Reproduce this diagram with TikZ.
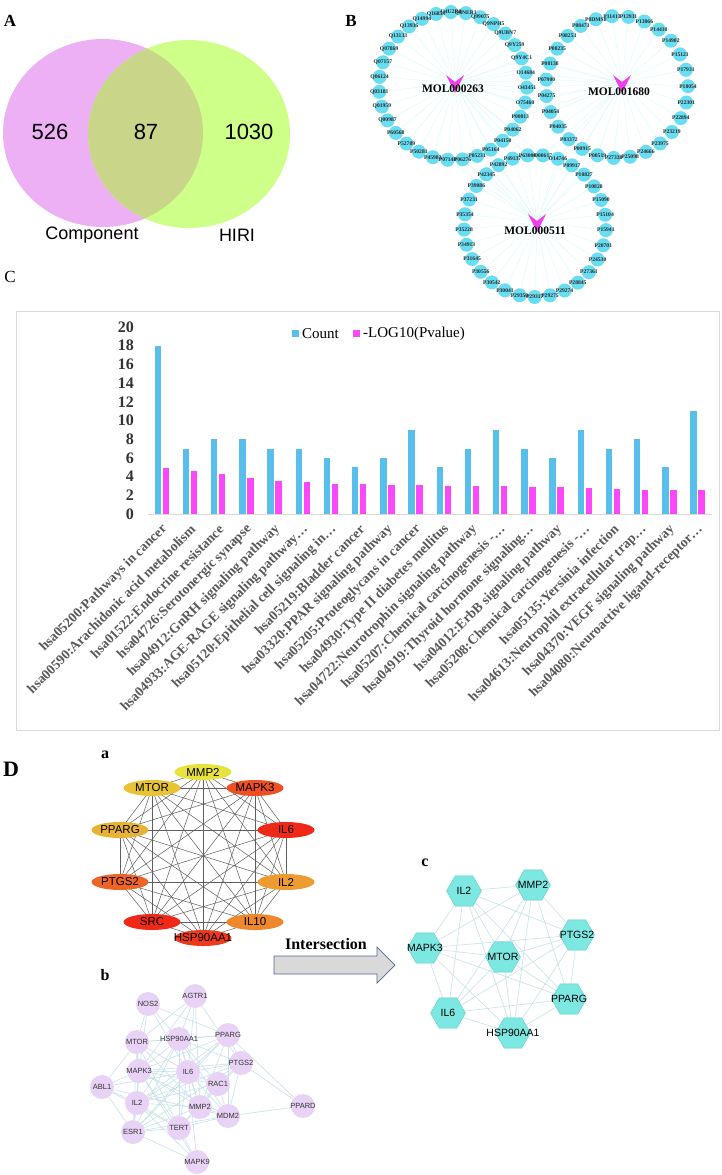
\documentclass[tikz,border=0pt]{standalone}
\usepackage{fontspec}
\setmainfont{Liberation Serif}
\setsansfont{Liberation Sans}
\usetikzlibrary{shapes.geometric}
\pgfdeclarelayer{edges}
\pgfsetlayers{edges,main}

\definecolor{vennpink}{RGB}{238,176,245}
\definecolor{venngreen}{RGB}{205,255,137}
\definecolor{vennmix}{RGB}{201,214,138}
\definecolor{tgtcyan}{RGB}{105,222,242}
\definecolor{tgtedge}{RGB}{214,249,251}
\definecolor{hubmag}{RGB}{245,62,235}
\definecolor{cntblue}{RGB}{88,190,236}
\definecolor{logpink}{RGB}{250,72,250}
\definecolor{axgray}{RGB}{217,217,217}
\definecolor{labgray}{RGB}{89,89,89}
\definecolor{kgray}{RGB}{95,95,95}
\definecolor{ppilav}{RGB}{232,210,246}
\definecolor{ppiedge}{RGB}{200,226,234}
\definecolor{hexcyan}{RGB}{125,232,226}
\definecolor{hexline}{RGB}{100,205,200}
\definecolor{arrowfill}{RGB}{217,217,217}
\definecolor{arrowline}{RGB}{80,105,150}
\definecolor{dgyel}{RGB}{232,226,60}
\definecolor{dggold}{RGB}{232,196,52}
\definecolor{dgamber}{RGB}{232,178,50}
\definecolor{dgorange}{RGB}{238,156,48}
\definecolor{dgtang}{RGB}{238,136,44}
\definecolor{dgrust}{RGB}{238,100,36}
\definecolor{dgver}{RGB}{238,80,36}
\definecolor{dgscar}{RGB}{240,56,28}
\definecolor{dgred}{RGB}{240,40,24}

\def\ringA{Q8NER1,Q99075,Q9NPH5,Q9UBN7,Q9Y259,Q9Y4C1,O14684,O43451,O75460,P00813,P04062,P04150,P05164,P05231,P06276,P07148,P45983,P50281,P52789,P60568,Q00987,Q01959,Q03181,Q06124,Q07157,Q07869,Q13133,Q13936,Q14994,Q16853,Q4U2R8}
\def\ringB{P11413,P12931,P13866,P14410,P14902,P15121,P17931,P18054,P22301,P22894,P23219,P23975,P24666,P25098,P27338,P00519,P00915,P03372,P04035,P04054,P04275,P07900,P08138,P08235,P08253,P08473,P0DMS8}
\def\ringC{P63000,O00617,O14746,P09917,P10827,P10828,P15090,P15104,P15941,P20701,P24530,P27361,P28845,P29274,P29275,P29317,P29350,P30041,P30542,P30556,P31645,P34913,P35228,P35354,P37231,P39086,P42345,P42892,P49137}
\def\hubnodes{MMP2,MAPK3,IL6,IL2,IL10,HSP90AA1,SRC,PTGS2,PPARG,MTOR}
\def\hexnodes{IL2,MMP2,PTGS2,PPARG,HSP90AA1,IL6,MAPK3,MTOR}

\begin{document}
\begin{tikzpicture}[x=1pt,y=-1pt,
    panel/.style={font=\bfseries\fontsize{17}{17}\selectfont, inner sep=0pt},
    sub/.style={font=\bfseries\fontsize{16}{16}\selectfont, inner sep=0pt},
    vennnum/.style={font=\sffamily\fontsize{22}{22}\selectfont, inner sep=0pt},
    vennset/.style={font=\sffamily\fontsize{18}{18}\selectfont, inner sep=0pt},
    tgt/.style={circle, fill=tgtcyan, minimum size=14pt, inner sep=0pt},
    tgtlab/.style={font=\bfseries\fontsize{5.6}{5.6}\selectfont, text=black!85, inner sep=0pt},
    molab/.style={font=\bfseries\fontsize{11.5}{11.5}\selectfont, inner sep=0pt},
    ytick/.style={font=\bfseries\fontsize{16}{16}\selectfont, text=black!80, inner sep=0pt, anchor=east},
    catlab/.style={font=\bfseries\fontsize{13.8}{13.8}\selectfont, text=labgray, inner sep=0pt, anchor=east, rotate=45},
    legtxt/.style={font=\fontsize{15}{15}\selectfont, inner sep=0pt, anchor=west},
    degnode/.style={ellipse, minimum width=57pt, minimum height=16pt, inner sep=0pt},
    deglab/.style={font=\sffamily\fontsize{11.5}{11.5}\selectfont, inner sep=0pt},
    ppinode/.style={circle, fill=ppilav, minimum size=24pt, inner sep=0pt},
    ppilab/.style={font=\sffamily\fontsize{7.5}{7.5}\selectfont, text=black!80, inner sep=0pt},
    hexnode/.style={regular polygon, regular polygon sides=6, fill=hexcyan, draw=hexline, line width=0.4pt, minimum size=35pt, inner sep=0pt},
    hexlab/.style={font=\sffamily\fontsize{10.5}{10.5}\selectfont, inner sep=0pt}
  ]
\begin{pgfonlayer}{edges}
  \fill[white] (0,0) rectangle (721,1175);
\end{pgfonlayer}
\useasboundingbox (0,0) rectangle (721,1175);

% A: Venn
\node[panel] (labA) at (10,21) {A};
\fill[vennpink] (103,133) ellipse [x radius=100pt, y radius=94pt];
\fill[venngreen] (189,134) ellipse [x radius=101pt, y radius=94pt];
\begin{scope}
  \clip (103,133) ellipse [x radius=100pt, y radius=94pt];
  \fill[vennmix] (189,134) ellipse [x radius=101pt, y radius=94pt];
\end{scope}
\node[vennnum] (nComp) at (50,132) {526};
\node[vennnum] (nBoth) at (146,132) {87};
\node[vennnum] (nHiri) at (249,132) {1030};
\node[vennset] (sComp) at (92,235) {Component};
\node[vennset] (sHiri) at (237,235) {HIRI};

% B: compound-target rings
\node[panel] (labB) at (351,21) {B};
\coordinate (hubA) at (455,83);
\coordinate (hubB) at (622,83);
\coordinate (hubC) at (537,222);
\foreach \lab [count=\k from 0] in \ringA {
  \pgfmathsetmacro\ang{-80+\k*360/31}
  \node[tgt] (ra\k) at ({453+74*cos(\ang)},{86+74*sin(\ang)}) {};
}
\foreach \lab [count=\k from 0] in \ringB {
  \pgfmathsetmacro\ang{-94+\k*360/27}
  \node[tgt] (rb\k) at ({617+71*cos(\ang)},{87+71*sin(\ang)}) {};
}
\foreach \lab [count=\k from 0] in \ringC {
  \pgfmathsetmacro\ang{-96+\k*360/29}
  \node[tgt] (rc\k) at ({535+71*cos(\ang)},{226+71*sin(\ang)}) {};
}
\begin{pgfonlayer}{edges}
  \foreach \k in {0,...,30} \draw[tgtedge, line width=0.35pt] (hubA) -- (ra\k);
  \foreach \k in {0,...,26} \draw[tgtedge, line width=0.35pt] (hubB) -- (rb\k);
  \foreach \k in {0,...,28} \draw[tgtedge, line width=0.35pt] (hubC) -- (rc\k);
  \foreach \k in {19,20,21,22,23} \draw[tgtedge, line width=0.35pt] (hubA) -- (rb\k);
  \foreach \k in {0,1,27,28} \draw[tgtedge, line width=0.35pt] (hubA) -- (rc\k);
  \foreach \k in {5,6,7,8,9} \draw[tgtedge, line width=0.35pt] (hubB) -- (ra\k);
  \foreach \k in {1,2,3} \draw[tgtedge, line width=0.35pt] (hubB) -- (rc\k);
  \foreach \k in {12,13,14,15} \draw[tgtedge, line width=0.35pt] (hubC) -- (ra\k);
  \foreach \k in {15,16,17} \draw[tgtedge, line width=0.35pt] (hubC) -- (rb\k);
\end{pgfonlayer}
\foreach \lab [count=\k from 0] in \ringA \node[tgtlab] at (ra\k) {\lab};
\foreach \lab [count=\k from 0] in \ringB \node[tgtlab] at (rb\k) {\lab};
\foreach \lab [count=\k from 0] in \ringC \node[tgtlab] at (rc\k) {\lab};
\foreach \h in {hubA,hubB,hubC}
  \fill[hubmag] (\h) ++(-9,-8) -- ++(9,7) -- ++(9,-7) -- ++(-9,18) -- cycle;
\node[molab] (molA) at (453,89) {MOL000263};
\node[molab] (molB) at (619,92) {MOL001680};
\node[molab] (molC) at (535,231) {MOL000511};

% C: KEGG bar chart
\node[panel, font=\fontsize{17}{17}\selectfont] (labC) at (10,277) {C};
\draw[axgray, line width=0.8pt] (16,311) rectangle (719,730);
\draw[axgray, line width=1pt] (148,514.5) -- (712,514.5);
\foreach \v in {0,2,...,20} \node[ytick] at (134,{514-9.35*\v}) {\v};
\fill[cntblue] (292,337) rectangle ++(7,-7);
\node[legtxt] (legCount) at (302,334) {Count};
\fill[logpink] (353,337) rectangle ++(7,-7);
\node[legtxt] (legLog) at (363,334) {-LOG10(Pvalue)};
\foreach \c/\p/\lab [count=\k from 0] in {
    18/4.96/{hsa05200:Pathways in cancer},
    7/4.57/{hsa00590:Arachidonic acid metabolism},
    8/4.33/{hsa01522:Endocrine resistance},
    8/3.90/{hsa04726:Serotonergic synapse},
    7/3.55/{hsa04912:GnRH signaling pathway},
    7/3.37/{hsa04933:AGE-RAGE signaling pathway…},
    6/3.23/{hsa05120:Epithelial cell signaling in…},
    5/3.19/{hsa05219:Bladder cancer},
    6/3.09/{hsa03320:PPAR signaling pathway},
    9/3.09/{hsa05205:Proteoglycans in cancer},
    5/3.01/{hsa04930:Type II diabetes mellitus},
    7/2.98/{hsa04722:Neurotrophin signaling pathway},
    9/2.98/{hsa05207:Chemical carcinogenesis -…},
    7/2.94/{hsa04919:Thyroid hormone signaling…},
    6/2.84/{hsa04012:ErbB signaling pathway},
    9/2.80/{hsa05208:Chemical carcinogenesis -…},
    7/2.66/{hsa05135:Yersinia infection},
    8/2.59/{hsa04613:Neutrophil extracellular trap…},
    5/2.59/{hsa04370:VEGF signaling pathway},
    11/2.55/{hsa04080:Neuroactive ligand-receptor…}} {
  \fill[cntblue] ({154.5+28.2*\k},514) rectangle ++(6.5,{-9.35*\c});
  \fill[logpink] ({162.5+28.2*\k},514) rectangle ++(6.5,{-9.35*\p});
  \node[catlab] at ({165+28.2*\k},527) {\lab};
}

% D: hub genes and intersection
\node[panel, font=\bfseries\fontsize{22}{22}\selectfont] (labD) at (11,769) {D};
\node[sub] (laba) at (105,755) {a};
\foreach \nm/\px/\py/\col in {MMP2/203/772/dgyel, MTOR/152/788/dggold, MAPK3/255/788/dgver,
    PPARG/120/830/dgamber, IL6/286/830/dgred, PTGS2/120/882/dgrust, IL2/286/882/dgorange,
    SRC/152/922/dgred, IL10/255/922/dgtang, HSP90AA1/203/938/dgscar}
  \node[degnode, fill=\col, label={[deglab]center:\nm}] (a\nm) at (\px,\py) {};
\begin{pgfonlayer}{edges}
  \foreach \u [count=\i] in \hubnodes
    \foreach \v [count=\j] in \hubnodes {
      \ifnum\i<\j \draw[kgray, line width=0.5pt] (a\u.center) -- (a\v.center); \fi
    }
\end{pgfonlayer}

\node[sub] (labb) at (105,975) {b};
\foreach \nm/\px/\py in {NOS2/148/1004, AGTR1/195/996, MTOR/137/1042, HSP90AA1/179/1039,
    PPARG/228/1035, PTGS2/241/1063, MAPK3/139/1071, IL6/188/1072, RAC1/218/1084,
    ABL1/102/1087, IL2/137/1103, MMP2/200/1107, MDM2/228/1116, PPARD/303/1106,
    ESR1/133/1132, TERT/179/1128, MAPK9/197/1162}
  \node[ppinode, label={[ppilab]center:\nm}] (b\nm) at (\px,\py) {};
\begin{pgfonlayer}{edges}
  \foreach \u/\v in {NOS2/MTOR, NOS2/HSP90AA1, NOS2/IL6, NOS2/MAPK3, NOS2/PPARG,
      AGTR1/HSP90AA1, AGTR1/IL6, AGTR1/PTGS2, AGTR1/MAPK3, AGTR1/MMP2, AGTR1/MTOR,
      MTOR/HSP90AA1, MTOR/MAPK3, MTOR/IL2, MTOR/ESR1, MTOR/IL6, MTOR/PPARG, MTOR/TERT, MTOR/ABL1, MTOR/MMP2,
      HSP90AA1/PPARG, HSP90AA1/MAPK3, HSP90AA1/IL6, HSP90AA1/IL2, HSP90AA1/ESR1, HSP90AA1/TERT,
      HSP90AA1/MDM2, HSP90AA1/PTGS2, HSP90AA1/RAC1, HSP90AA1/MMP2,
      PPARG/PTGS2, PPARG/IL6, PPARG/MAPK3, PPARG/MMP2, PPARG/ESR1, PPARG/MDM2, PPARG/PPARD, PPARG/IL2,
      PTGS2/IL6, PTGS2/MAPK3, PTGS2/MMP2, PTGS2/RAC1, PTGS2/PPARD, PTGS2/IL2, PTGS2/MDM2, PTGS2/ESR1,
      MAPK3/IL6, MAPK3/ABL1, MAPK3/IL2, MAPK3/ESR1, MAPK3/TERT, MAPK3/MMP2, MAPK3/RAC1, MAPK3/MDM2, MAPK3/MAPK9,
      IL6/IL2, IL6/MMP2, IL6/RAC1, IL6/TERT, IL6/ESR1, IL6/MDM2, IL6/MAPK9,
      RAC1/MMP2, RAC1/MDM2, RAC1/IL2, RAC1/TERT,
      ABL1/IL2, ABL1/ESR1, ABL1/TERT, ABL1/MDM2, ABL1/IL6,
      IL2/ESR1, IL2/TERT, IL2/MMP2, IL2/MAPK9, MMP2/TERT, MMP2/MDM2, MMP2/ESR1,
      MDM2/TERT, MDM2/PPARD, MDM2/ESR1, ESR1/TERT, ESR1/MAPK9, TERT/MAPK9}
    \draw[ppiedge, line width=0.6pt] (b\u) -- (b\v);
\end{pgfonlayer}

\node[font=\bfseries\fontsize{16}{16}\selectfont, inner sep=0pt] (inter) at (326,944) {Intersection};
\draw[arrowline, fill=arrowfill, line width=0.7pt]
  (274,956) -- (377,956) -- (377,947) -- (395,965) -- (377,983) -- (377,974) -- (274,974) -- cycle;

\node[sub] (labc) at (425,863) {c};
\foreach \nm/\px/\py in {IL2/464/891, MMP2/533/885, PTGS2/577/935, MAPK3/425/948,
    MTOR/503/957, PPARG/569/999, IL6/448/1013, HSP90AA1/513/1033}
  \node[hexnode, label={[hexlab]center:\nm}] (c\nm) at (\px,\py) {};
\begin{pgfonlayer}{edges}
  \foreach \u [count=\i] in \hexnodes
    \foreach \v [count=\j] in \hexnodes {
      \ifnum\i<\j \draw[ppiedge, line width=0.6pt] (c\u) -- (c\v); \fi
    }
\end{pgfonlayer}
\end{tikzpicture}
\end{document}
